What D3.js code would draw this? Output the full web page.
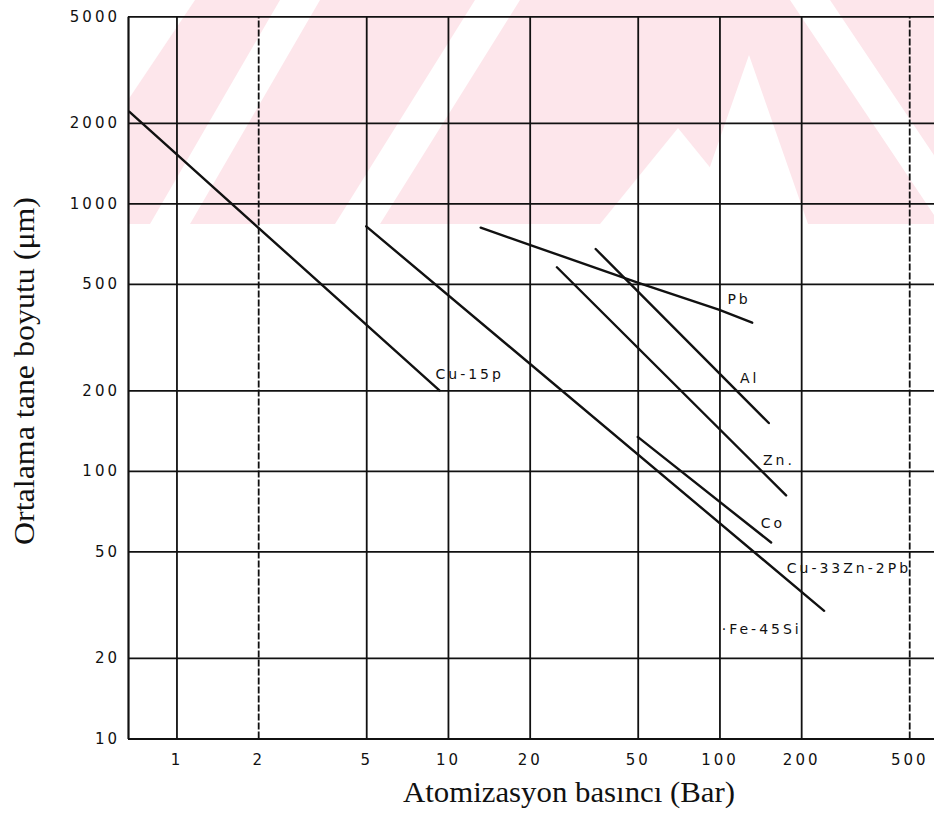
<!DOCTYPE html>
<html>
<head>
<meta charset="utf-8">
<script src="https://cdn.jsdelivr.net/npm/d3@7"></script>
<style>
  html, body { margin: 0; padding: 0; background: #fff; }
  svg { display: block; }
</style>
</head>
<body>
<svg id="chart" width="934" height="816"></svg>
<script>
// ---- data ----
const xTicks = [1, 2, 5, 10, 20, 50, 100, 200, 500];
const yTicks = [10, 20, 50, 100, 200, 500, 1000, 2000, 5000];
const xTickLabels = ["1", "2", "5", "10", "20", "50", "100", "200", "500"];
const yTickLabels = ["10", "20", "50", "100", "200", "500", "1000", "2000", "5000"];

// pressure (bar), mean particle size (µm)
const cu15p  = [[0.67, 2200], [9.3, 200]];
const cu33Zn = [[5, 820], [243, 30]];
const pb     = [[13.2, 811], [20, 700], [50, 505], [100, 400], [132, 358]];
const al     = [[35, 675], [152, 151]];
const zn     = [[25.2, 577], [176, 81]];
const co     = [[50, 134], [155, 54]];

const seriesNames = ["Cu-15p", "Cu-33Zn-2Pb", "Pb", "Al", "Zn", "Co"];
const seriesData  = [cu15p, cu33Zn, pb, al, zn, co];

// label texts and anchor points in data units
const labelTexts  = ["Cu-15p", "Pb", "Al", "Zn.", "Co", "Cu-33Zn-2Pb", "·Fe-45Si"];
const labelPoints = [[9.0, 220], [107, 421], [119, 213], [144.6, 105], [142, 61.2], [177, 41.6], [102, 24.6]];

const xTitle = "Atomizasyon basıncı (Bar)";
const yTitle = "Ortalama tane boyutu (μm)";

// ---- layout ----
const svg = d3.select("#chart");
const W = 934, H = 816;
const x = d3.scaleLog().domain([0.663, 617]).range([128, 934]);
const y = d3.scaleLog().domain([10, 5000]).range([738.5, 16.3]);
const ink = "#111";
const tickFont = "'DejaVu Sans', sans-serif";

// watermark (light pink chevron bands in the upper part of the page)
const wm = svg.append("g");
wm.append("clipPath").attr("id", "wmclip")
  .append("rect").attr("x", 128).attr("y", 0).attr("width", W - 128).attr("height", 224);
const wmg = wm.append("g").attr("clip-path", "url(#wmclip)");
const pink = "#fde6eb";
wmg.append("rect").attr("x", 128).attr("y", 0).attr("width", W - 128).attr("height", 224).attr("fill", pink);
const whiteBands = [
  [[150,224],[190,224],[320,0],[280,0]],
  [[335,224],[380,224],[520,0],[475,0]],
  [[600,224],[678,128],[756,224]],
  [[690,224],[749,55],[808,224]],
  [[790,0],[830,0],[980,224],[940,224]],
  [[128,0],[195,0],[128,100]]
];
wmg.selectAll("polygon").data(whiteBands).join("polygon")
  .attr("points", d => d.map(p => p.join(",")).join(" "))
  .attr("fill", "#fff");

// ---- axes & grid ----
const gx = svg.append("g").attr("transform", `translate(0,${y(10)})`)
  .call(d3.axisBottom(x).tickValues(xTicks)
    .tickFormat((d, i) => xTickLabels[i])
    .tickSize(-(y(10) - y(5000))).tickSizeOuter(0).tickPadding(16));
gx.select(".domain").attr("stroke", ink).attr("stroke-width", 2.2);
gx.selectAll(".tick line").attr("stroke", ink).attr("stroke-width", 1.8)
  .attr("stroke-dasharray", d => (d === 2 || d === 500) ? "7,2" : null);
gx.selectAll(".tick text").attr("fill", ink)
  .attr("font-family", tickFont).attr("font-size", 15).attr("letter-spacing", 3);

const gy = svg.append("g").attr("transform", `translate(${x.range()[0]},0)`)
  .call(d3.axisLeft(y).tickValues(yTicks)
    .tickFormat((d, i) => yTickLabels[i])
    .tickSize(-(W - x.range()[0])).tickSizeOuter(0).tickPadding(8));
gy.select(".domain").attr("stroke", ink).attr("stroke-width", 2.2);
gy.selectAll(".tick line").attr("stroke", ink).attr("stroke-width", 1.8);
gy.selectAll(".tick text").attr("fill", ink)
  .attr("font-family", tickFont).attr("font-size", 15).attr("letter-spacing", 3);

// ---- data lines ----
const line = d3.line().x(d => x(d[0])).y(d => y(d[1]));
svg.append("g").selectAll("path").data(seriesData).join("path")
  .attr("d", line).attr("fill", "none").attr("stroke", ink)
  .attr("stroke-width", 2.4).attr("stroke-linecap", "round");

// ---- line labels ----
svg.append("g").selectAll("text").data(labelTexts).join("text")
  .attr("x", (d, i) => x(labelPoints[i][0]))
  .attr("y", (d, i) => y(labelPoints[i][1]))
  .attr("font-family", tickFont).attr("font-size", 14).attr("letter-spacing", 3)
  .attr("fill", ink).text(d => d);

// ---- titles ----
svg.append("text").attr("x", 569).attr("y", 802).attr("text-anchor", "middle")
  .attr("font-family", "'Liberation Serif', 'Times New Roman', serif").attr("font-size", 30)
  .attr("textLength", 332).attr("lengthAdjust", "spacingAndGlyphs")
  .attr("fill", ink).text(xTitle);
svg.append("text").attr("transform", "translate(34,371) rotate(-90)").attr("text-anchor", "middle")
  .attr("font-family", "'Liberation Serif', 'Times New Roman', serif").attr("font-size", 30)
  .attr("textLength", 348).attr("lengthAdjust", "spacingAndGlyphs")
  .attr("fill", ink).text(yTitle);
</script>
</body>
</html>
